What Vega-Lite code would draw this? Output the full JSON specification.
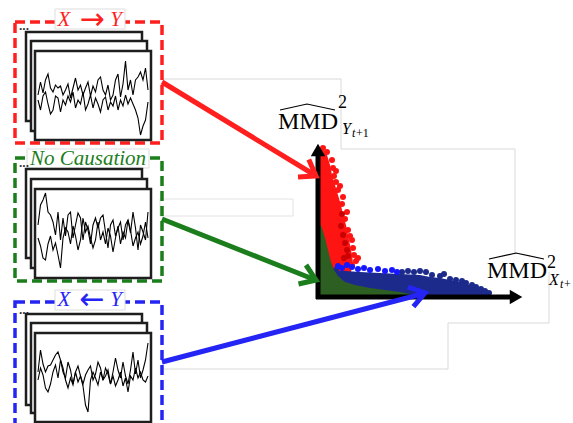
{
  "$schema": "https://vega.github.io/schema/vega-lite/v6.json",
  "width": 573,
  "height": 423,
  "autosize": {"type": "none"},
  "padding": 0,
  "background": "white",
  "config": {"view": {"stroke": null}},
  "layer": [
    {
      "data": {"values": [
        {"g": "a", "o": 1, "x": 163, "y": 79}, {"g": "a", "o": 2, "x": 341, "y": 79}, {"g": "a", "o": 3, "x": 341, "y": 149}, {"g": "a", "o": 4, "x": 515, "y": 149}, {"g": "a", "o": 5, "x": 515, "y": 255},
        {"g": "b", "o": 1, "x": 549, "y": 272}, {"g": "b", "o": 2, "x": 549, "y": 323}, {"g": "b", "o": 3, "x": 448, "y": 323}, {"g": "b", "o": 4, "x": 448, "y": 369}, {"g": "b", "o": 5, "x": 163, "y": 369}
      ]},
      "mark": {"type": "line", "color": "#d9d9d9", "strokeWidth": 1},
      "encoding": {
        "x": {"field": "x", "type": "quantitative", "scale": {"domain": [0, 573], "nice": false, "zero": false}, "axis": null},
        "y": {"field": "y", "type": "quantitative", "scale": {"domain": [0, 423], "nice": false, "zero": false, "reverse": true}, "axis": null},
        "detail": {"field": "g"},
        "order": {"field": "o"}
      }
    },
    {
      "data": {"values": [{"x": 160, "x2": 293, "y": 199, "y2": 216}]},
      "mark": {"type": "rect", "filled": false, "color": "#e2e2e2", "strokeWidth": 1},
      "encoding": {
        "x": {"field": "x", "type": "quantitative", "scale": {"domain": [0, 573], "nice": false, "zero": false}, "axis": null},
        "x2": {"field": "x2"},
        "y": {"field": "y", "type": "quantitative", "scale": {"domain": [0, 423], "nice": false, "zero": false, "reverse": true}, "axis": null},
        "y2": {"field": "y2"}
      }
    },
    {
      "data": {"values": [
        {"k": "XY", "x": 15, "x2": 162, "y": 22, "y2": 143},
        {"k": "NC", "x": 15, "x2": 162, "y": 158, "y2": 281},
        {"k": "YX", "x": 15, "x2": 162, "y": 302, "y2": 428}
      ]},
      "mark": {"type": "rect", "filled": false, "strokeWidth": 3.5, "strokeDash": [10, 5]},
      "encoding": {
        "x": {"field": "x", "type": "quantitative", "scale": {"domain": [0, 573], "nice": false, "zero": false}, "axis": null},
        "x2": {"field": "x2"},
        "y": {"field": "y", "type": "quantitative", "scale": {"domain": [0, 423], "nice": false, "zero": false, "reverse": true}, "axis": null},
        "y2": {"field": "y2"},
        "color": {"field": "k", "type": "nominal", "scale": {"domain": ["XY", "NC", "YX"], "range": ["#ff1f1f", "#1b7d1b", "#2424f5"]}, "legend": null}
      }
    },
    {
      "data": {"values": [
        {"x": 55, "x2": 125, "y": 9, "y2": 29},
        {"x": 27, "x2": 149, "y": 149, "y2": 168},
        {"x": 55, "x2": 125, "y": 290, "y2": 310}
      ]},
      "mark": {"type": "rect", "fill": "white", "stroke": "#dddddd", "strokeWidth": 1},
      "encoding": {
        "x": {"field": "x", "type": "quantitative", "scale": {"domain": [0, 573], "nice": false, "zero": false}, "axis": null},
        "x2": {"field": "x2"},
        "y": {"field": "y", "type": "quantitative", "scale": {"domain": [0, 423], "nice": false, "zero": false, "reverse": true}, "axis": null},
        "y2": {"field": "y2"}
      }
    },
    {
      "data": {"values": [
        {"k": "XY", "t": "X", "x": 64, "y": 26},
        {"k": "XY", "t": "Y", "x": 116, "y": 26},
        {"k": "NC", "t": "No Causation", "x": 88, "y": 165},
        {"k": "YX", "t": "X", "x": 64, "y": 306},
        {"k": "YX", "t": "Y", "x": 116, "y": 306}
      ]},
      "mark": {"type": "text", "font": "Liberation Serif", "fontStyle": "italic", "fontSize": 21, "align": "center", "baseline": "alphabetic"},
      "encoding": {
        "x": {"field": "x", "type": "quantitative", "scale": {"domain": [0, 573], "nice": false, "zero": false}, "axis": null},
        "y": {"field": "y", "type": "quantitative", "scale": {"domain": [0, 423], "nice": false, "zero": false, "reverse": true}, "axis": null},
        "text": {"field": "t"},
        "color": {"field": "k", "type": "nominal", "scale": {"domain": ["XY", "NC", "YX"], "range": ["#ff1f1f", "#1b7d1b", "#2424f5"]}, "legend": null}
      }
    },
    {
      "data": {"values": [
        {"k": "XY", "t": "→", "x": 92, "y": 29},
        {"k": "YX", "t": "←", "x": 92, "y": 309}
      ]},
      "mark": {"type": "text", "font": "DejaVu Sans", "fontSize": 30, "align": "center", "baseline": "alphabetic"},
      "encoding": {
        "x": {"field": "x", "type": "quantitative", "scale": {"domain": [0, 573], "nice": false, "zero": false}, "axis": null},
        "y": {"field": "y", "type": "quantitative", "scale": {"domain": [0, 423], "nice": false, "zero": false, "reverse": true}, "axis": null},
        "text": {"field": "t"},
        "color": {"field": "k", "type": "nominal", "scale": {"domain": ["XY", "NC", "YX"], "range": ["#ff1f1f", "#1b7d1b", "#2424f5"]}, "legend": null}
      }
    },
    {
      "data": {"values": [
        {"t": "...", "x": 19, "y": 30},
        {"t": "...", "x": 19, "y": 167},
        {"t": "...", "x": 19, "y": 314}
      ]},
      "mark": {"type": "text", "font": "Liberation Sans", "fontSize": 12, "fontWeight": "bold", "align": "left", "baseline": "alphabetic", "color": "#333333"},
      "encoding": {
        "x": {"field": "x", "type": "quantitative", "scale": {"domain": [0, 573], "nice": false, "zero": false}, "axis": null},
        "y": {"field": "y", "type": "quantitative", "scale": {"domain": [0, 423], "nice": false, "zero": false, "reverse": true}, "axis": null},
        "text": {"field": "t"}
      }
    },
    {
      "data": {"values": [
        {"x": 26, "x2": 142, "y": 32, "y2": 121},
        {"x": 31, "x2": 147, "y": 41, "y2": 131},
        {"x": 35, "x2": 151, "y": 51, "y2": 140},
        {"x": 26, "x2": 142, "y": 169, "y2": 258},
        {"x": 31, "x2": 147, "y": 179, "y2": 268},
        {"x": 35, "x2": 151, "y": 189, "y2": 278},
        {"x": 26, "x2": 142, "y": 314, "y2": 405},
        {"x": 31, "x2": 147, "y": 323, "y2": 413},
        {"x": 35, "x2": 151, "y": 333, "y2": 422}
      ]},
      "mark": {"type": "rect", "fill": "white", "stroke": "#1e1e1e", "strokeWidth": 2.5},
      "encoding": {
        "x": {"field": "x", "type": "quantitative", "scale": {"domain": [0, 573], "nice": false, "zero": false}, "axis": null},
        "x2": {"field": "x2"},
        "y": {"field": "y", "type": "quantitative", "scale": {"domain": [0, 423], "nice": false, "zero": false, "reverse": true}, "axis": null},
        "y2": {"field": "y2"}
      }
    },
    {
      "data": {"values": [
        {"s":"r1","x":38,"y":95},{"s":"r1","x":40.5,"y":82},{"s":"r1","x":43,"y":93},{"s":"r1","x":45.5,"y":80},{"s":"r1","x":48,"y":74},{"s":"r1","x":50.5,"y":88},{"s":"r1","x":53,"y":92},{"s":"r1","x":55.5,"y":85},{"s":"r1","x":58,"y":88},{"s":"r1","x":60.5,"y":86},{"s":"r1","x":63,"y":95},{"s":"r1","x":65.5,"y":90},{"s":"r1","x":68,"y":84},{"s":"r1","x":70.5,"y":98},{"s":"r1","x":73,"y":88},{"s":"r1","x":75.5,"y":78},{"s":"r1","x":78,"y":90},{"s":"r1","x":80.5,"y":85},{"s":"r1","x":83,"y":95},{"s":"r1","x":85.5,"y":88},{"s":"r1","x":88,"y":82},{"s":"r1","x":90.5,"y":96},{"s":"r1","x":93,"y":86},{"s":"r1","x":95.5,"y":92},{"s":"r1","x":98,"y":80},{"s":"r1","x":100.5,"y":77},{"s":"r1","x":103,"y":90},{"s":"r1","x":105.5,"y":95},{"s":"r1","x":108,"y":85},{"s":"r1","x":110.5,"y":100},{"s":"r1","x":113,"y":95},{"s":"r1","x":115.5,"y":80},{"s":"r1","x":118,"y":74},{"s":"r1","x":120.5,"y":97},{"s":"r1","x":123,"y":84},{"s":"r1","x":125.5,"y":61},{"s":"r1","x":128,"y":90},{"s":"r1","x":130.5,"y":80},{"s":"r1","x":133,"y":95},{"s":"r1","x":135.5,"y":80},{"s":"r1","x":138,"y":77},{"s":"r1","x":140.5,"y":72},{"s":"r1","x":143,"y":80},{"s":"r1","x":145.5,"y":68},{"s":"r1","x":148,"y":90},
        {"s":"r2","x":38,"y":100},{"s":"r2","x":40.5,"y":110},{"s":"r2","x":43,"y":96},{"s":"r2","x":45.5,"y":92},{"s":"r2","x":48,"y":104},{"s":"r2","x":50.5,"y":114},{"s":"r2","x":53,"y":110},{"s":"r2","x":55.5,"y":96},{"s":"r2","x":58,"y":98},{"s":"r2","x":60.5,"y":112},{"s":"r2","x":63,"y":100},{"s":"r2","x":65.5,"y":105},{"s":"r2","x":68,"y":96},{"s":"r2","x":70.5,"y":102},{"s":"r2","x":73,"y":92},{"s":"r2","x":75.5,"y":108},{"s":"r2","x":78,"y":100},{"s":"r2","x":80.5,"y":104},{"s":"r2","x":83,"y":92},{"s":"r2","x":85.5,"y":110},{"s":"r2","x":88,"y":104},{"s":"r2","x":90.5,"y":95},{"s":"r2","x":93,"y":108},{"s":"r2","x":95.5,"y":98},{"s":"r2","x":98,"y":104},{"s":"r2","x":100.5,"y":112},{"s":"r2","x":103,"y":100},{"s":"r2","x":105.5,"y":97},{"s":"r2","x":108,"y":110},{"s":"r2","x":110.5,"y":102},{"s":"r2","x":113,"y":106},{"s":"r2","x":115.5,"y":96},{"s":"r2","x":118,"y":110},{"s":"r2","x":120.5,"y":100},{"s":"r2","x":123,"y":106},{"s":"r2","x":125.5,"y":95},{"s":"r2","x":128,"y":104},{"s":"r2","x":130.5,"y":98},{"s":"r2","x":133,"y":104},{"s":"r2","x":135.5,"y":110},{"s":"r2","x":138,"y":118},{"s":"r2","x":140.5,"y":135},{"s":"r2","x":143,"y":126},{"s":"r2","x":145.5,"y":120},{"s":"r2","x":148,"y":102},
        {"s":"g1","x":38,"y":225},{"s":"g1","x":40.5,"y":205},{"s":"g1","x":43,"y":200},{"s":"g1","x":45.5,"y":193},{"s":"g1","x":48,"y":212},{"s":"g1","x":50.5,"y":215},{"s":"g1","x":53,"y":222},{"s":"g1","x":55.5,"y":235},{"s":"g1","x":58,"y":212},{"s":"g1","x":60.5,"y":240},{"s":"g1","x":63,"y":218},{"s":"g1","x":65.5,"y":236},{"s":"g1","x":68,"y":215},{"s":"g1","x":70.5,"y":212},{"s":"g1","x":73,"y":238},{"s":"g1","x":75.5,"y":225},{"s":"g1","x":78,"y":213},{"s":"g1","x":80.5,"y":218},{"s":"g1","x":83,"y":240},{"s":"g1","x":85.5,"y":222},{"s":"g1","x":88,"y":230},{"s":"g1","x":90.5,"y":244},{"s":"g1","x":93,"y":225},{"s":"g1","x":95.5,"y":218},{"s":"g1","x":98,"y":228},{"s":"g1","x":100.5,"y":218},{"s":"g1","x":103,"y":215},{"s":"g1","x":105.5,"y":232},{"s":"g1","x":108,"y":248},{"s":"g1","x":110.5,"y":225},{"s":"g1","x":113,"y":220},{"s":"g1","x":115.5,"y":236},{"s":"g1","x":118,"y":228},{"s":"g1","x":120.5,"y":222},{"s":"g1","x":123,"y":240},{"s":"g1","x":125.5,"y":225},{"s":"g1","x":128,"y":220},{"s":"g1","x":130.5,"y":233},{"s":"g1","x":133,"y":212},{"s":"g1","x":135.5,"y":228},{"s":"g1","x":138,"y":250},{"s":"g1","x":140.5,"y":225},{"s":"g1","x":143,"y":232},{"s":"g1","x":145.5,"y":240},{"s":"g1","x":148,"y":212},
        {"s":"g2","x":38,"y":238},{"s":"g2","x":40.5,"y":246},{"s":"g2","x":43,"y":258},{"s":"g2","x":45.5,"y":260},{"s":"g2","x":48,"y":244},{"s":"g2","x":50.5,"y":236},{"s":"g2","x":53,"y":250},{"s":"g2","x":55.5,"y":243},{"s":"g2","x":58,"y":255},{"s":"g2","x":60.5,"y":268},{"s":"g2","x":63,"y":238},{"s":"g2","x":65.5,"y":228},{"s":"g2","x":68,"y":232},{"s":"g2","x":70.5,"y":244},{"s":"g2","x":73,"y":226},{"s":"g2","x":75.5,"y":236},{"s":"g2","x":78,"y":250},{"s":"g2","x":80.5,"y":240},{"s":"g2","x":83,"y":218},{"s":"g2","x":85.5,"y":232},{"s":"g2","x":88,"y":226},{"s":"g2","x":90.5,"y":238},{"s":"g2","x":93,"y":248},{"s":"g2","x":95.5,"y":240},{"s":"g2","x":98,"y":222},{"s":"g2","x":100.5,"y":240},{"s":"g2","x":103,"y":232},{"s":"g2","x":105.5,"y":244},{"s":"g2","x":108,"y":228},{"s":"g2","x":110.5,"y":236},{"s":"g2","x":113,"y":252},{"s":"g2","x":115.5,"y":238},{"s":"g2","x":118,"y":226},{"s":"g2","x":120.5,"y":244},{"s":"g2","x":123,"y":232},{"s":"g2","x":125.5,"y":238},{"s":"g2","x":128,"y":220},{"s":"g2","x":130.5,"y":230},{"s":"g2","x":133,"y":246},{"s":"g2","x":135.5,"y":238},{"s":"g2","x":138,"y":232},{"s":"g2","x":140.5,"y":244},{"s":"g2","x":143,"y":236},{"s":"g2","x":145.5,"y":222},{"s":"g2","x":148,"y":238},
        {"s":"b1","x":38,"y":372},{"s":"b1","x":40.5,"y":350},{"s":"b1","x":43,"y":364},{"s":"b1","x":45.5,"y":372},{"s":"b1","x":48,"y":366},{"s":"b1","x":50.5,"y":365},{"s":"b1","x":53,"y":360},{"s":"b1","x":55.5,"y":355},{"s":"b1","x":58,"y":352},{"s":"b1","x":60.5,"y":360},{"s":"b1","x":63,"y":372},{"s":"b1","x":65.5,"y":378},{"s":"b1","x":68,"y":362},{"s":"b1","x":70.5,"y":370},{"s":"b1","x":73,"y":384},{"s":"b1","x":75.5,"y":372},{"s":"b1","x":78,"y":366},{"s":"b1","x":80.5,"y":376},{"s":"b1","x":83,"y":384},{"s":"b1","x":85.5,"y":375},{"s":"b1","x":88,"y":370},{"s":"b1","x":90.5,"y":366},{"s":"b1","x":93,"y":380},{"s":"b1","x":95.5,"y":374},{"s":"b1","x":98,"y":362},{"s":"b1","x":100.5,"y":368},{"s":"b1","x":103,"y":380},{"s":"b1","x":105.5,"y":368},{"s":"b1","x":108,"y":374},{"s":"b1","x":110.5,"y":384},{"s":"b1","x":113,"y":372},{"s":"b1","x":115.5,"y":358},{"s":"b1","x":118,"y":370},{"s":"b1","x":120.5,"y":378},{"s":"b1","x":123,"y":362},{"s":"b1","x":125.5,"y":376},{"s":"b1","x":128,"y":384},{"s":"b1","x":130.5,"y":370},{"s":"b1","x":133,"y":352},{"s":"b1","x":135.5,"y":374},{"s":"b1","x":138,"y":360},{"s":"b1","x":140.5,"y":378},{"s":"b1","x":143,"y":370},{"s":"b1","x":145.5,"y":360},{"s":"b1","x":148,"y":343},
        {"s":"b2","x":38,"y":380},{"s":"b2","x":40.5,"y":368},{"s":"b2","x":43,"y":375},{"s":"b2","x":45.5,"y":388},{"s":"b2","x":48,"y":392},{"s":"b2","x":50.5,"y":384},{"s":"b2","x":53,"y":372},{"s":"b2","x":55.5,"y":365},{"s":"b2","x":58,"y":378},{"s":"b2","x":60.5,"y":360},{"s":"b2","x":63,"y":368},{"s":"b2","x":65.5,"y":380},{"s":"b2","x":68,"y":388},{"s":"b2","x":70.5,"y":378},{"s":"b2","x":73,"y":385},{"s":"b2","x":75.5,"y":372},{"s":"b2","x":78,"y":382},{"s":"b2","x":80.5,"y":376},{"s":"b2","x":83,"y":386},{"s":"b2","x":85.5,"y":405},{"s":"b2","x":88,"y":412},{"s":"b2","x":90.5,"y":380},{"s":"b2","x":93,"y":372},{"s":"b2","x":95.5,"y":378},{"s":"b2","x":98,"y":385},{"s":"b2","x":100.5,"y":372},{"s":"b2","x":103,"y":380},{"s":"b2","x":105.5,"y":376},{"s":"b2","x":108,"y":370},{"s":"b2","x":110.5,"y":384},{"s":"b2","x":113,"y":376},{"s":"b2","x":115.5,"y":386},{"s":"b2","x":118,"y":380},{"s":"b2","x":120.5,"y":372},{"s":"b2","x":123,"y":386},{"s":"b2","x":125.5,"y":378},{"s":"b2","x":128,"y":392},{"s":"b2","x":130.5,"y":376},{"s":"b2","x":133,"y":380},{"s":"b2","x":135.5,"y":368},{"s":"b2","x":138,"y":378},{"s":"b2","x":140.5,"y":372},{"s":"b2","x":143,"y":380},{"s":"b2","x":145.5,"y":382},{"s":"b2","x":148,"y":376}
      ]},
      "mark": {"type": "line", "color": "black", "strokeWidth": 1.1},
      "encoding": {
        "x": {"field": "x", "type": "quantitative", "scale": {"domain": [0, 573], "nice": false, "zero": false}, "axis": null},
        "y": {"field": "y", "type": "quantitative", "scale": {"domain": [0, 423], "nice": false, "zero": false, "reverse": true}, "axis": null},
        "detail": {"field": "s"}
      }
    },
    {
      "data": {"values": [
        {"y": 150, "x": 319, "x2": 323}, {"y": 155, "x": 319, "x2": 327}, {"y": 165, "x": 319, "x2": 330}, {"y": 175, "x": 319, "x2": 332},
        {"y": 185, "x": 319, "x2": 335}, {"y": 195, "x": 319, "x2": 338}, {"y": 205, "x": 319, "x2": 341}, {"y": 215, "x": 319, "x2": 343},
        {"y": 225, "x": 319, "x2": 346}, {"y": 235, "x": 319, "x2": 348}, {"y": 245, "x": 319, "x2": 350}, {"y": 255, "x": 319, "x2": 352},
        {"y": 263, "x": 319, "x2": 353}, {"y": 272, "x": 319, "x2": 351}, {"y": 280, "x": 319, "x2": 345}, {"y": 286, "x": 319, "x2": 335}
      ]},
      "mark": {"type": "area", "orient": "horizontal", "color": "#ff1414", "opacity": 1},
      "encoding": {
        "y": {"field": "y", "type": "quantitative", "scale": {"domain": [0, 423], "nice": false, "zero": false, "reverse": true}, "axis": null},
        "x": {"field": "x", "type": "quantitative", "scale": {"domain": [0, 573], "nice": false, "zero": false}, "axis": null},
        "x2": {"field": "x2"}
      }
    },
    {
      "data": {"values": [
        {"x": 323, "y": 148}, {"x": 327, "y": 152}, {"x": 332, "y": 160}, {"x": 333, "y": 168}, {"x": 334, "y": 176}, {"x": 336, "y": 182},
        {"x": 338, "y": 190}, {"x": 343, "y": 197}, {"x": 342, "y": 204}, {"x": 347, "y": 212}, {"x": 345, "y": 219}, {"x": 348, "y": 230},
        {"x": 350, "y": 236}, {"x": 352, "y": 240}, {"x": 353, "y": 248}, {"x": 354, "y": 255}, {"x": 356, "y": 261}, {"x": 352, "y": 265},
        {"x": 348, "y": 268}, {"x": 358, "y": 258}, {"x": 340, "y": 186}, {"x": 336, "y": 171}
      ]},
      "mark": {"type": "circle", "size": 36, "opacity": 1, "color": "#ff1414"},
      "encoding": {
        "x": {"field": "x", "type": "quantitative", "scale": {"domain": [0, 573], "nice": false, "zero": false}, "axis": null},
        "y": {"field": "y", "type": "quantitative", "scale": {"domain": [0, 423], "nice": false, "zero": false, "reverse": true}, "axis": null}
      }
    },
    {
      "data": {"values": [
        {"x": 341, "y": 226}, {"x": 343, "y": 235}, {"x": 345, "y": 243}, {"x": 347, "y": 250}, {"x": 344, "y": 258}, {"x": 348, "y": 256}, {"x": 342, "y": 214}
      ]},
      "mark": {"type": "circle", "size": 36, "opacity": 1, "color": "#cc0000"},
      "encoding": {
        "x": {"field": "x", "type": "quantitative", "scale": {"domain": [0, 573], "nice": false, "zero": false}, "axis": null},
        "y": {"field": "y", "type": "quantitative", "scale": {"domain": [0, 423], "nice": false, "zero": false, "reverse": true}, "axis": null}
      }
    },
    {
      "data": {"values": [
        {"x": 333, "y": 276, "y2": 296}, {"x": 338, "y": 271, "y2": 296}, {"x": 345, "y": 271, "y2": 296}, {"x": 360, "y": 272, "y2": 296},
        {"x": 380, "y": 273, "y2": 296}, {"x": 400, "y": 274, "y2": 296}, {"x": 420, "y": 275, "y2": 296}, {"x": 430, "y": 277, "y2": 296},
        {"x": 440, "y": 278, "y2": 296}, {"x": 450, "y": 280, "y2": 296}, {"x": 460, "y": 282, "y2": 296}, {"x": 470, "y": 285, "y2": 296},
        {"x": 480, "y": 289, "y2": 296}, {"x": 487, "y": 293, "y2": 296}
      ]},
      "mark": {"type": "area", "color": "#1c2a8c", "opacity": 1},
      "encoding": {
        "x": {"field": "x", "type": "quantitative", "scale": {"domain": [0, 573], "nice": false, "zero": false}, "axis": null},
        "y": {"field": "y", "type": "quantitative", "scale": {"domain": [0, 423], "nice": false, "zero": false, "reverse": true}, "axis": null},
        "y2": {"field": "y2"}
      }
    },
    {
      "data": {"values": [
        {"x": 402, "y": 272}, {"x": 408, "y": 271}, {"x": 414, "y": 272}, {"x": 420, "y": 271}, {"x": 426, "y": 272}, {"x": 432, "y": 275},
        {"x": 440, "y": 276}, {"x": 444, "y": 274}, {"x": 450, "y": 279}, {"x": 456, "y": 280}, {"x": 462, "y": 281}, {"x": 466, "y": 283},
        {"x": 472, "y": 285}, {"x": 476, "y": 287}, {"x": 481, "y": 289}, {"x": 485, "y": 291}, {"x": 489, "y": 293}, {"x": 336, "y": 270}
      ]},
      "mark": {"type": "circle", "size": 36, "opacity": 1, "color": "#1c2a8c"},
      "encoding": {
        "x": {"field": "x", "type": "quantitative", "scale": {"domain": [0, 573], "nice": false, "zero": false}, "axis": null},
        "y": {"field": "y", "type": "quantitative", "scale": {"domain": [0, 423], "nice": false, "zero": false, "reverse": true}, "axis": null}
      }
    },
    {
      "data": {"values": [
        {"x": 338, "y": 266}, {"x": 342, "y": 268}, {"x": 347, "y": 265}, {"x": 352, "y": 267}, {"x": 358, "y": 269}, {"x": 364, "y": 268},
        {"x": 370, "y": 270}, {"x": 378, "y": 269}, {"x": 385, "y": 271}, {"x": 392, "y": 270}, {"x": 397, "y": 272}
      ]},
      "mark": {"type": "circle", "size": 36, "opacity": 1, "color": "#1616ff"},
      "encoding": {
        "x": {"field": "x", "type": "quantitative", "scale": {"domain": [0, 573], "nice": false, "zero": false}, "axis": null},
        "y": {"field": "y", "type": "quantitative", "scale": {"domain": [0, 423], "nice": false, "zero": false, "reverse": true}, "axis": null}
      }
    },
    {
      "data": {"values": [
        {"x": 319, "y": 222, "y2": 296}, {"x": 322, "y": 228, "y2": 296}, {"x": 325, "y": 238, "y2": 296}, {"x": 328, "y": 250, "y2": 296},
        {"x": 331, "y": 262, "y2": 296}, {"x": 334, "y": 270, "y2": 296}, {"x": 338, "y": 276, "y2": 296}, {"x": 345, "y": 282, "y2": 296},
        {"x": 355, "y": 285, "y2": 296}, {"x": 370, "y": 288, "y2": 296}, {"x": 385, "y": 290, "y2": 296}, {"x": 400, "y": 292, "y2": 296},
        {"x": 415, "y": 295, "y2": 296}
      ]},
      "mark": {"type": "area", "color": "#2e5f22", "opacity": 1},
      "encoding": {
        "x": {"field": "x", "type": "quantitative", "scale": {"domain": [0, 573], "nice": false, "zero": false}, "axis": null},
        "y": {"field": "y", "type": "quantitative", "scale": {"domain": [0, 423], "nice": false, "zero": false, "reverse": true}, "axis": null},
        "y2": {"field": "y2"}
      }
    },
    {
      "data": {"values": [
        {"x": 318, "x2": 318, "y": 299, "y2": 155},
        {"x": 316, "x2": 512, "y": 297, "y2": 297}
      ]},
      "mark": {"type": "rule", "color": "black", "strokeWidth": 5},
      "encoding": {
        "x": {"field": "x", "type": "quantitative", "scale": {"domain": [0, 573], "nice": false, "zero": false}, "axis": null},
        "x2": {"field": "x2"},
        "y": {"field": "y", "type": "quantitative", "scale": {"domain": [0, 423], "nice": false, "zero": false, "reverse": true}, "axis": null},
        "y2": {"field": "y2"}
      }
    },
    {
      "data": {"values": [{"x": 318, "y": 150}]},
      "mark": {"type": "point", "shape": "triangle-up", "filled": true, "color": "black", "size": 210, "opacity": 1},
      "encoding": {
        "x": {"field": "x", "type": "quantitative", "scale": {"domain": [0, 573], "nice": false, "zero": false}, "axis": null},
        "y": {"field": "y", "type": "quantitative", "scale": {"domain": [0, 423], "nice": false, "zero": false, "reverse": true}, "axis": null}
      }
    },
    {
      "data": {"values": [{"x": 516, "y": 297}]},
      "mark": {"type": "point", "shape": "triangle-right", "filled": true, "color": "black", "size": 210, "opacity": 1},
      "encoding": {
        "x": {"field": "x", "type": "quantitative", "scale": {"domain": [0, 573], "nice": false, "zero": false}, "axis": null},
        "y": {"field": "y", "type": "quantitative", "scale": {"domain": [0, 423], "nice": false, "zero": false, "reverse": true}, "axis": null}
      }
    },
    {
      "data": {"values": [
        {"k": "XY", "p": "XYs", "o": 1, "x": 162, "y": 82}, {"k": "XY", "p": "XYs", "o": 2, "x": 313, "y": 174},
        {"k": "XY", "p": "XYh", "o": 1, "x": 308.8, "y": 159.5}, {"k": "XY", "p": "XYh", "o": 2, "x": 316, "y": 176}, {"k": "XY", "p": "XYh", "o": 3, "x": 298, "y": 177},
        {"k": "NC", "p": "NCs", "o": 1, "x": 162, "y": 219}, {"k": "NC", "p": "NCs", "o": 2, "x": 313, "y": 279},
        {"k": "NC", "p": "NCh", "o": 1, "x": 306, "y": 265}, {"k": "NC", "p": "NCh", "o": 2, "x": 316, "y": 280}, {"k": "NC", "p": "NCh", "o": 3, "x": 298.5, "y": 284},
        {"k": "YX", "p": "YXs", "o": 1, "x": 162, "y": 362}, {"k": "YX", "p": "YXs", "o": 2, "x": 422, "y": 294},
        {"k": "YX", "p": "YXh", "o": 1, "x": 408, "y": 287}, {"k": "YX", "p": "YXh", "o": 2, "x": 425, "y": 293}, {"k": "YX", "p": "YXh", "o": 3, "x": 413.4, "y": 306.7}
      ]},
      "mark": {"type": "line", "strokeWidth": 5, "strokeJoin": "miter", "strokeCap": "butt"},
      "encoding": {
        "x": {"field": "x", "type": "quantitative", "scale": {"domain": [0, 573], "nice": false, "zero": false}, "axis": null},
        "y": {"field": "y", "type": "quantitative", "scale": {"domain": [0, 423], "nice": false, "zero": false, "reverse": true}, "axis": null},
        "detail": {"field": "p"},
        "order": {"field": "o"},
        "color": {"field": "k", "type": "nominal", "scale": {"domain": ["XY", "NC", "YX"], "range": ["#ff1f1f", "#1e801e", "#1515ff"]}, "legend": null}
      }
    },
    {
      "data": {"values": [
        {"t": "MMD", "x": 278, "y": 129},
        {"t": "MMD", "x": 487, "y": 278}
      ]},
      "mark": {"type": "text", "font": "Liberation Serif", "fontSize": 24, "align": "left", "baseline": "alphabetic", "color": "black"},
      "encoding": {
        "x": {"field": "x", "type": "quantitative", "scale": {"domain": [0, 573], "nice": false, "zero": false}, "axis": null},
        "y": {"field": "y", "type": "quantitative", "scale": {"domain": [0, 423], "nice": false, "zero": false, "reverse": true}, "axis": null},
        "text": {"field": "t"}
      }
    },
    {
      "data": {"values": [
        {"h": "y", "x": 280, "y": 110}, {"h": "y", "x": 307, "y": 104}, {"h": "y", "x": 335, "y": 110},
        {"h": "x", "x": 489, "y": 259}, {"h": "x", "x": 516, "y": 253}, {"h": "x", "x": 544, "y": 259}
      ]},
      "mark": {"type": "line", "color": "black", "strokeWidth": 1.2},
      "encoding": {
        "x": {"field": "x", "type": "quantitative", "scale": {"domain": [0, 573], "nice": false, "zero": false}, "axis": null},
        "y": {"field": "y", "type": "quantitative", "scale": {"domain": [0, 423], "nice": false, "zero": false, "reverse": true}, "axis": null},
        "detail": {"field": "h"}
      }
    },
    {
      "data": {"values": [
        {"t": "2", "x": 338, "y": 108},
        {"t": "2", "x": 547, "y": 268}
      ]},
      "mark": {"type": "text", "font": "Liberation Serif", "fontSize": 18, "align": "left", "baseline": "alphabetic", "color": "black"},
      "encoding": {
        "x": {"field": "x", "type": "quantitative", "scale": {"domain": [0, 573], "nice": false, "zero": false}, "axis": null},
        "y": {"field": "y", "type": "quantitative", "scale": {"domain": [0, 423], "nice": false, "zero": false, "reverse": true}, "axis": null},
        "text": {"field": "t"}
      }
    },
    {
      "data": {"values": [
        {"t": "Y", "x": 342, "y": 134},
        {"t": "X", "x": 549, "y": 285}
      ]},
      "mark": {"type": "text", "font": "Liberation Serif", "fontStyle": "italic", "fontSize": 16, "align": "left", "baseline": "alphabetic", "color": "black"},
      "encoding": {
        "x": {"field": "x", "type": "quantitative", "scale": {"domain": [0, 573], "nice": false, "zero": false}, "axis": null},
        "y": {"field": "y", "type": "quantitative", "scale": {"domain": [0, 423], "nice": false, "zero": false, "reverse": true}, "axis": null},
        "text": {"field": "t"}
      }
    },
    {
      "data": {"values": [
        {"t": "t", "x": 352, "y": 137},
        {"t": "t", "x": 560, "y": 288}
      ]},
      "mark": {"type": "text", "font": "Liberation Serif", "fontStyle": "italic", "fontSize": 12, "align": "left", "baseline": "alphabetic", "color": "black"},
      "encoding": {
        "x": {"field": "x", "type": "quantitative", "scale": {"domain": [0, 573], "nice": false, "zero": false}, "axis": null},
        "y": {"field": "y", "type": "quantitative", "scale": {"domain": [0, 423], "nice": false, "zero": false, "reverse": true}, "axis": null},
        "text": {"field": "t"}
      }
    },
    {
      "data": {"values": [
        {"t": "+1", "x": 356, "y": 137},
        {"t": "+", "x": 564, "y": 288}
      ]},
      "mark": {"type": "text", "font": "Liberation Serif", "fontSize": 12, "align": "left", "baseline": "alphabetic", "color": "black"},
      "encoding": {
        "x": {"field": "x", "type": "quantitative", "scale": {"domain": [0, 573], "nice": false, "zero": false}, "axis": null},
        "y": {"field": "y", "type": "quantitative", "scale": {"domain": [0, 423], "nice": false, "zero": false, "reverse": true}, "axis": null},
        "text": {"field": "t"}
      }
    }
  ]
}
